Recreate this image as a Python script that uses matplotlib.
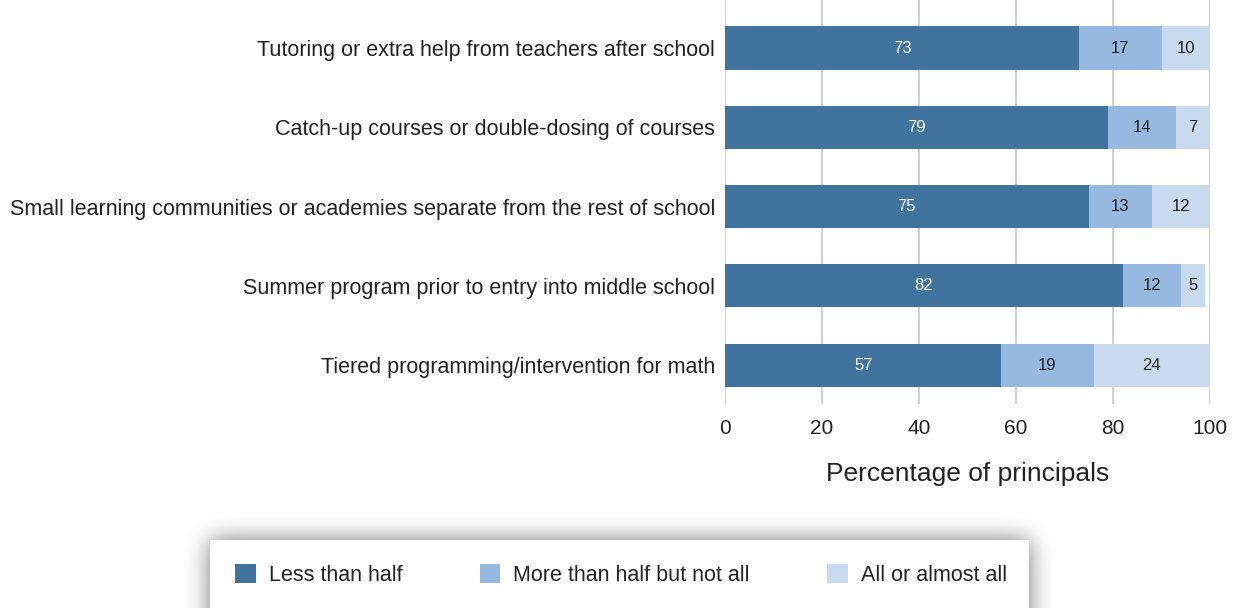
import numpy as np
import matplotlib.pyplot as plt
from matplotlib.patches import Rectangle, Patch

plt.rcParams["font.family"] = ["Liberation Sans", "DejaVu Sans"]

programs = [
    "Tutoring or extra help from teachers after school",
    "Catch-up courses or double-dosing of courses",
    "Small learning communities or academies separate from the rest of school",
    "Summer program prior to entry into middle school",
    "Tiered programming/intervention for math",
]
less_than_half = [73, 79, 75, 82, 57]
more_than_half = [17, 14, 13, 12, 19]
all_or_almost = [10, 7, 12, 5, 24]

series_names = ["Less than half", "More than half but not all", "All or almost all"]
colors = ["#41739f", "#98b9df", "#c9d9ee"]
text_colors = ["white", "#222222", "#222222"]

W, H = 1236, 608
fig = plt.figure(figsize=(W / 100, H / 100), dpi=100)

# soft shadow behind the legend box, drawn as a blurred mask
bx0, bx1, by0 = 210, 1029, 540
mask = np.zeros((H + 80, W))
mask[by0:, bx0:bx1] = 1.0
sigma = 12.0
k = np.arange(-45, 46)
kern = np.exp(-0.5 * (k / sigma) ** 2)
kern /= kern.sum()
blur = np.apply_along_axis(lambda r: np.convolve(r, kern, mode="same"), 1, mask)
blur = np.apply_along_axis(lambda c: np.convolve(c, kern, mode="same"), 0, blur)[:H]
rgba = np.zeros((H, W, 4))
rgba[..., 3] = blur * 0.55
bg = fig.add_axes([0, 0, 1, 1], zorder=0)
bg.imshow(rgba, extent=(0, W, H, 0), interpolation="bilinear")
bg.add_patch(Rectangle((bx0, by0), bx1 - bx0, H - by0 + 5, facecolor="white", edgecolor="none"))
bg.set_xlim(0, W)
bg.set_ylim(H, 0)
bg.axis("off")

ax = fig.add_axes([725 / W, 1 - 404 / H, 485 / W, 404 / H], zorder=1)
ax.patch.set_alpha(0)

ypos = list(range(len(programs)))
left = [0] * len(programs)
for vals, color, tcolor in zip((less_than_half, more_than_half, all_or_almost), colors, text_colors):
    bars = ax.barh(ypos, vals, left=left, height=0.545, color=color, zorder=2)
    for bar, v in zip(bars, vals):
        ax.text(bar.get_x() + bar.get_width() / 2, bar.get_y() + bar.get_height() / 2,
                str(v), ha="center", va="center", fontsize=12, color=tcolor, zorder=3)
    left = [a + b for a, b in zip(left, vals)]

ax.set_xlim(0, 100)
ax.set_ylim(4.49, -0.606)
ax.set_xticks(range(0, 101, 20))
ax.set_yticks(ypos, programs)
ax.tick_params(axis="y", length=0, pad=7, labelsize=15.5, labelcolor="#222222")
ax.tick_params(axis="x", length=0, pad=11, labelsize=15, labelcolor="#222222")
ax.grid(axis="x", color="#c8c8c8", linewidth=1.2, zorder=0)
ax.set_axisbelow(True)
for s in ax.spines.values():
    s.set_visible(False)
ax.set_xlabel("Percentage of principals", fontsize=19, color="#222222", labelpad=17)

handles = [Patch(facecolor=c, edgecolor="none") for c in colors]
leg = fig.legend(handles, series_names, loc="center left", ncol=3,
                 bbox_to_anchor=(216 / W, 1 - 575 / H), frameon=False,
                 fontsize=15.5, handlelength=0.95, handleheight=0.95, handletextpad=0.6,
                 columnspacing=3.6, labelcolor="#222222")
leg.set_zorder(5)

fig.savefig("out.png", dpi=100)
